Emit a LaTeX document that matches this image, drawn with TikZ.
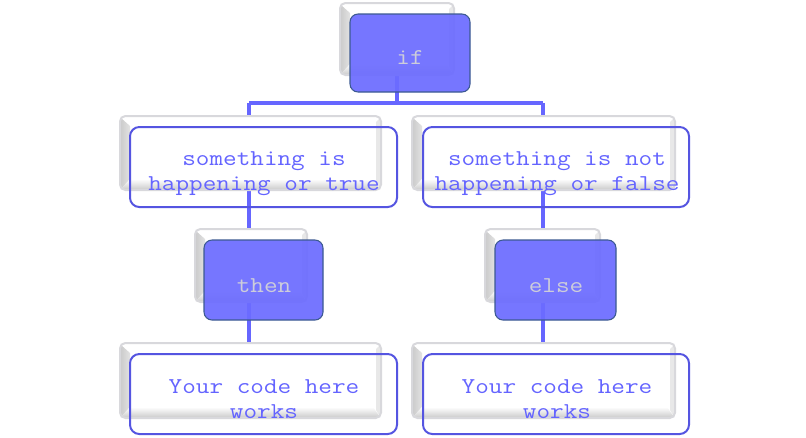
\documentclass[tikz,border=0pt]{standalone}
\usepackage{fontspec}
\usetikzlibrary{fit}
\definecolor{boxblue}{RGB}{108,108,255}
\definecolor{boxedge}{RGB}{60,90,145}
\definecolor{connc}{RGB}{102,102,255}
\definecolor{outl}{RGB}{85,85,225}
\definecolor{txtblue}{RGB}{100,100,255}
\definecolor{txtgrey}{RGB}{205,205,218}
\definecolor{bevline}{RGB}{216,216,220}
\newcommand\courfont{\ttfamily\addfontfeature{FakeStretch=1.075}\fontsize{17}{18.75}\selectfont}
\tikzset{
  bluebox/.style={draw=boxedge, line width=0.8pt, fill=boxblue, fill opacity=0.93, rounded corners=6pt, inner sep=0pt},
  whitebox/.style={draw=outl, line width=1.5pt, rounded corners=7pt, inner sep=0pt},
  connline/.style={draw=connc, line width=3pt},
  lbl/.style={font=\courfont, inner sep=0pt, anchor=base, align=center, xscale=1.166, transform shape},
}
\newcommand\bevelbox[5]{%
  \fill[white, rounded corners=4pt] (#2,#3) rectangle (#4,#5);
  \shade[left color=gray!40, right color=gray!22] (#2+1,#3+2) -- (#2+10,#3+10) -- (#2+10,#5-11) -- (#2+1,#5-1) -- cycle;
  \shade[top color=white, bottom color=gray!38] (#2+1,#5-1) -- (#2+10,#5-11) -- (#4-8,#5-11) -- (#4-1,#5-1) -- cycle;
  \fill[gray!18] (#4-1,#3+2) -- (#4-5,#3+6) -- (#4-5,#5-8) -- (#4-1,#5-1) -- cycle;
  \draw[bevline, line width=1.5pt, rounded corners=4pt] (#2,#3) rectangle (#4,#5);
  \node[fit={(#2,#3) (#4,#5)}, inner sep=0pt] (#1) {};
}
\begin{document}
\begin{tikzpicture}[x=0.75pt, y=-0.75pt]
\useasboundingbox[fill=white] (0,0) rectangle (806,437);
% junction coordinates
\coordinate (jt) at (397,103);
\coordinate (jl) at (249,103);
\coordinate (jr) at (543,103);
\coordinate (el) at (249,380);
\coordinate (er) at (543,380);
% connectors (drawn first, behind boxes)
\draw[connline] (397,60) -- (jt);
\draw[connline] (jl) -- (jr);
\draw[connline] (jl) -- (el);
\draw[connline] (jr) -- (er);
% bevel boxes
\bevelbox{ifbev}{340}{3}{454}{75}
\bevelbox{lcbev}{120}{116}{381}{190}
\bevelbox{rcbev}{412}{116}{675}{190}
\bevelbox{thbev}{195}{229}{307}{302}
\bevelbox{elbev}{485}{229}{600}{302}
\bevelbox{lbbev}{120}{343}{381}{418}
\bevelbox{rbbev}{412}{343}{675}{418}
% main boxes
\node[bluebox, fit={(350,14) (470,92)}] (if) {};
\node[whitebox, fit={(130,127) (397,207)}] (lc) {};
\node[whitebox, fit={(423,127) (689,207)}] (rc) {};
\node[bluebox, fit={(204,240) (323,320)}] (then) {};
\node[bluebox, fit={(495,240) (616,320)}] (else) {};
\node[whitebox, fit={(130,354) (397,434)}] (lb) {};
\node[whitebox, fit={(423,354) (689,434)}] (rb) {};
% texts
\node[lbl, text=txtgrey] (iftxt) at (410,64) {if};
\node[lbl, text=txtgrey] (thentxt) at (264,292) {then};
\node[lbl, text=txtgrey] (elsetxt) at (556,292) {else};
\node[lbl, text=txtblue] (lctxt) at (264,190) {something is\\happening or true};
\node[lbl, text=txtblue] (rctxt) at (557,190) {something is not\\happening or false};
\node[lbl, text=txtblue] (lbtxt) at (264,418) {Your code here\\works};
\node[lbl, text=txtblue] (rbtxt) at (557,418) {Your code here\\works};
\end{tikzpicture}
\end{document}
